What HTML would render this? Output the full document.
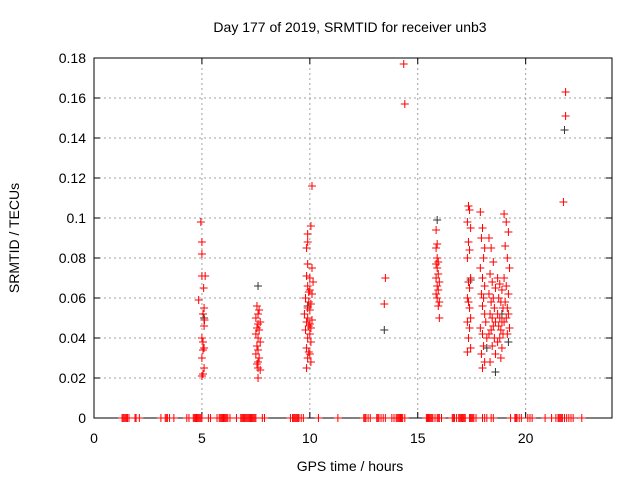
<!DOCTYPE html>
<html><head><meta charset="utf-8"><style>
body{margin:0;background:#fff;}
svg{display:block;font-family:"Liberation Sans",sans-serif;}
</style></head><body>
<svg id="chart" width="640" height="480" viewBox="0 0 640 480"></svg>
<script>
const xTicks=[0,5,10,15,20];
const yTicks=[0,0.02,0.04,0.06,0.08,0.1,0.12,0.14,0.16,0.18];
const yTickLabels=["0","0.02","0.04","0.06","0.08","0.1","0.12","0.14","0.16","0.18"];
const redHours=[
4.95,5.0,5.0,5.0,5.15,5.08,4.85,5.1,5.05,5.12,5.1,5.0,5.05,5.1,5.05,5.0,5.1,5.05,5.0,
7.55,7.65,7.6,7.5,7.7,7.6,7.55,7.65,7.5,7.6,7.7,7.55,7.6,7.5,7.65,7.6,7.55,7.6,7.7,7.6,
10.1,10.05,9.9,9.9,9.85,9.9,10.1,9.85,10.0,10.15,9.9,10.0,9.95,10.1,9.8,9.95,10.05,9.9,10.0,9.75,9.9,10.1,9.85,10.0,9.95,10.05,9.8,10.0,9.9,10.05,9.85,9.95,10.0,9.9,10.05,9.85,
13.5,13.45,14.35,14.4,
15.85,15.9,15.85,15.9,15.95,15.85,15.9,15.95,15.85,16.0,15.9,15.95,15.85,15.9,16.0,15.95,16.0,
17.35,17.4,17.3,17.45,17.35,17.4,17.3,17.45,17.35,17.4,17.3,17.35,17.4,17.45,17.3,17.4,17.35,17.45,17.3,
17.9,18.0,17.95,18.1,18.05,17.9,18.0,18.1,17.95,18.05,18.0,18.1,18.15,17.9,18.0,18.2,18.05,17.95,18.1,18.0,
18.3,18.4,18.5,18.35,18.45,18.6,18.3,18.5,18.4,18.55,18.35,18.45,18.6,18.5,18.4,18.3,18.55,18.45,18.6,18.35,
18.7,18.8,18.9,18.75,18.85,18.95,18.7,18.8,18.9,18.75,18.85,18.95,18.8,18.7,18.9,18.85,
19.0,19.1,19.2,19.05,19.15,19.25,19.0,19.1,19.2,19.05,19.15,19.2,19.1,19.0,19.25,19.15,
21.85,21.85,21.75];
const redValues=[
0.098,0.088,0.082,0.071,0.071,0.065,0.059,0.055,0.052,0.049,0.046,0.04,0.038,0.035,0.034,0.03,0.025,0.022,0.021,
0.056,0.054,0.052,0.05,0.048,0.047,0.045,0.044,0.042,0.04,0.038,0.036,0.034,0.032,0.03,0.028,0.027,0.025,0.024,0.02,
0.116,0.096,0.092,0.088,0.085,0.077,0.075,0.071,0.07,0.068,0.066,0.064,0.063,0.062,0.06,0.058,0.057,0.055,0.054,0.052,0.05,0.049,0.048,0.047,0.046,0.045,0.044,0.042,0.04,0.038,0.035,0.033,0.032,0.03,0.028,0.025,
0.07,0.057,0.177,0.157,
0.094,0.087,0.085,0.08,0.078,0.077,0.075,0.072,0.07,0.068,0.066,0.064,0.062,0.06,0.058,0.056,0.05,
0.106,0.104,0.098,0.095,0.088,0.084,0.08,0.07,0.068,0.065,0.06,0.058,0.055,0.05,0.048,0.045,0.04,0.035,0.033,
0.103,0.095,0.09,0.085,0.08,0.075,0.07,0.066,0.062,0.06,0.056,0.052,0.048,0.045,0.042,0.04,0.036,0.032,0.028,0.025,
0.09,0.085,0.078,0.072,0.068,0.065,0.062,0.06,0.058,0.055,0.052,0.05,0.048,0.046,0.044,0.042,0.04,0.036,0.032,0.028,
0.07,0.067,0.064,0.06,0.058,0.055,0.052,0.05,0.048,0.046,0.044,0.042,0.04,0.038,0.035,0.03,
0.102,0.098,0.093,0.086,0.08,0.075,0.07,0.066,0.062,0.058,0.055,0.052,0.05,0.048,0.045,0.042,
0.163,0.151,0.108];
const blackHours=[5.1,7.6,9.9,13.45,15.9,17.45,18.2,18.6,18.9,19.2,21.8];
const blackValues=[0.05,0.066,0.056,0.044,0.099,0.069,0.035,0.023,0.052,0.038,0.144];
const zeroHours=[1.3,1.35,1.4,1.45,1.5,1.55,1.62,1.9,1.95,2.1,3.1,3.3,3.35,3.4,3.5,3.7,4.3,4.4,4.6,4.65,4.7,4.75,4.8,4.85,4.9,4.95,5.0,5.3,5.4,5.7,5.8,5.85,5.9,5.95,6.0,6.05,6.1,6.15,6.2,6.3,6.6,6.8,6.85,6.9,6.95,7.0,7.05,7.1,7.15,7.2,7.25,7.3,7.35,7.4,7.45,7.5,7.8,7.9,9.1,9.2,9.25,9.3,9.35,9.4,9.45,9.5,9.6,9.7,10.4,11.3,12.5,12.55,12.6,12.7,12.8,13.1,13.15,13.2,13.3,13.4,13.5,13.8,13.9,14.0,14.05,14.1,14.15,14.2,14.25,14.3,14.4,15.4,15.45,15.5,15.55,15.6,15.65,15.7,15.8,15.9,15.95,16.0,16.1,16.6,16.65,16.7,16.8,16.9,16.95,17.0,17.05,17.1,17.15,17.2,17.4,17.45,17.5,17.55,17.6,17.7,18.0,18.1,18.2,18.4,18.5,19.3,19.5,19.55,19.6,19.7,19.8,20.1,20.2,20.3,20.9,21.2,21.4,21.5,21.55,21.6,21.65,21.7,21.8,21.9,22.0,22.1,22.2,22.6];

const NS="http://www.w3.org/2000/svg";
const svg=document.getElementById('chart');
const L=94,R=612,T=58,B=418,XMAX=24,YMAX=0.18;
const sx=h=>L+h/XMAX*(R-L);
const sy=v=>B-v/YMAX*(B-T);
function mk(tag,attrs,parent){const e=document.createElementNS(NS,tag);for(const k in attrs)e.setAttribute(k,attrs[k]);(parent||svg).appendChild(e);return e;}

const grid=mk('g',{});


yTicks.forEach((v,i)=>{
  if(v>0&&v<YMAX) mk('line',{x1:L,x2:R,y1:sy(v),y2:sy(v),stroke:'#a0a0a0','stroke-dasharray':'2,3','stroke-width':1},grid);
  mk('line',{x1:L,x2:L+6,y1:sy(v),y2:sy(v),stroke:'#000'},grid);
  mk('line',{x1:R,x2:R-6,y1:sy(v),y2:sy(v),stroke:'#000'},grid);
  const t=mk('text',{x:L-8,y:sy(v)+5,'text-anchor':'end','font-size':14,fill:'#000'});
  
  
  t.textContent=yTickLabels[i];
});
xTicks.forEach(h=>{
  if(h>0) mk('line',{x1:sx(h),x2:sx(h),y1:T,y2:B,stroke:'#a0a0a0','stroke-dasharray':'2,3'},grid);
  mk('line',{x1:sx(h),x2:sx(h),y1:B,y2:B-6,stroke:'#000'},grid);
  mk('line',{x1:sx(h),x2:sx(h),y1:T,y2:T+6,stroke:'#000'},grid);
  const t=mk('text',{x:sx(h),y:B+25,'text-anchor':'middle','font-size':14,fill:'#000'});
  
  
  t.textContent=String(h);
});
const frame=mk('rect',{x:L,y:T,width:R-L,height:B-T,fill:'none',stroke:'#000'});



function plus(h,v,color,g){
  const x=sx(h),y=sy(v);
  mk('path',{d:`M${x-4},${y}H${x+4}M${x},${y-4}V${y+4}`,stroke:color,'stroke-width':1,fill:'none'},g);
}
const gb=mk('g',{});


blackHours.forEach((h,i)=>plus(h,blackValues[i],'#333',gb));
const gr=mk('g',{});


redHours.forEach((h,i)=>plus(h,redValues[i],'#f00',gr));
const gz=mk('g',{});


zeroHours.forEach(h=>plus(h,0,'#f00',gz));

const title=mk('text',{x:350,y:32,'text-anchor':'middle','font-size':14,fill:'#000'});


title.textContent='Day 177 of 2019, SRMTID for receiver unb3';
const xl=mk('text',{x:350,y:471,'text-anchor':'middle','font-size':14,fill:'#000'});


xl.textContent='GPS time / hours';
const yl=mk('text',{x:0,y:0,'text-anchor':'middle','font-size':14,fill:'#000',transform:'translate(19,238) rotate(-90)'});


yl.textContent='SRMTID / TECUs';
</script>
</body></html>
